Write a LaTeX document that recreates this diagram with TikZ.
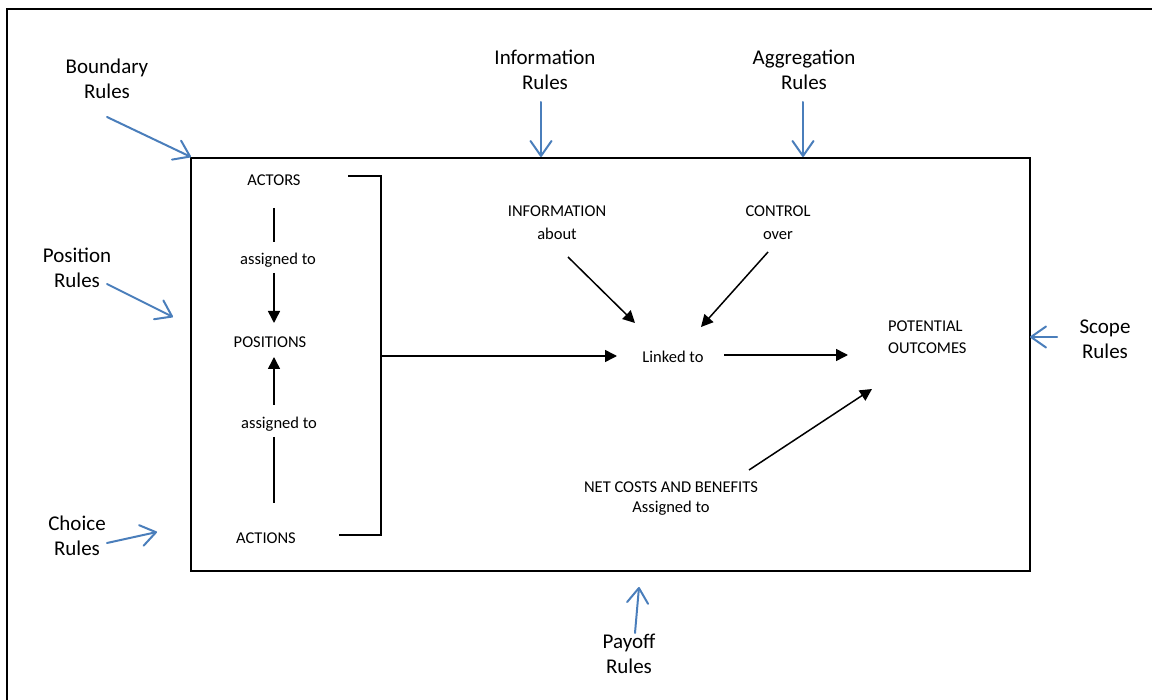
\documentclass[tikz,border=0pt]{standalone}
\usepackage{fontspec}
\setmainfont{Carlito}
\usetikzlibrary{arrows.meta}
\definecolor{ruleblue}{RGB}{74,126,187}

\begin{document}
\begin{tikzpicture}[x=1pt,y=-1pt,
  rulelabel/.style={font=\fontsize{21}{25}\selectfont, align=center, inner sep=0pt},
  inlabel/.style={font=\fontsize{16.5}{20}\selectfont, align=center, inner sep=0pt},
  rulearrow/.style={draw=ruleblue, line width=2pt, line cap=round,
    -{Straight Barb[length=15pt,width=21pt,line width=2pt,round]}},
  flow/.style={draw=black, line width=1.5pt, -{Triangle[length=12pt,width=12pt]}},
  plainline/.style={draw=black, line width=1.5pt}]

\useasboundingbox (0,0) rectangle (1152,700);

% page frame (top and left edges)
\coordinate (frameTR) at (1152,9);
\coordinate (frameTL) at (7,9);
\coordinate (frameBL) at (7,700);
\draw[line width=2pt] (frameTR) -- (frameTL) -- (frameBL);

% action arena
\node[draw, line width=1.6pt, minimum width=839pt, minimum height=413pt,
      anchor=north west, inner sep=0pt] (arena) at (190,157) {};

% ---- rules around the arena ----
\node[rulelabel] (boundary) at (107,79) {Boundary\\Rules};
\node[rulelabel] (information) at (545,70) {Information\\Rules};
\node[rulelabel] (aggregation) at (804,70) {Aggregation\\Rules};
\node[rulelabel] (position) at (77,268) {Position\\Rules};
\node[rulelabel] (choice) at (77,536) {Choice\\Rules};
\node[rulelabel] (scope) at (1105,339) {Scope\\Rules};
\node[rulelabel] (payoff) at (629,654) {Payoff\\Rules};

\coordinate (bS) at (107,117);  \coordinate (bE) at (191,157);
\coordinate (iS) at (541,102);  \coordinate (iE) at (541,157);
\coordinate (aS) at (803,102);  \coordinate (aE) at (803,157);
\coordinate (pS) at (107,284);  \coordinate (pE) at (173,317);
\coordinate (cS) at (107,543);  \coordinate (cE) at (157,532);
\coordinate (sS) at (1057,337); \coordinate (sE) at (1030,337);
\coordinate (yS) at (635,633);  \coordinate (yE) at (639,587);

\draw[rulearrow] (bS) -- (bE);
\draw[rulearrow] (iS) -- (iE);
\draw[rulearrow] (aS) -- (aE);
\draw[rulearrow] (pS) -- (pE);
\draw[rulearrow] (cS) -- (cE);
\draw[rulearrow] (sS) -- (sE);
\draw[rulearrow] (yS) -- (yE);

% ---- inside the arena ----
\node[inlabel] (actors) at (274,180) {ACTORS};
\node[inlabel] (assignedA) at (278,260) {assigned to};
\node[inlabel] (positions) at (270,342) {POSITIONS};
\node[inlabel] (assignedB) at (279,424) {assigned to};
\node[inlabel] (actions) at (266,538) {ACTIONS};

\node[inlabel, font=\fontsize{16.5}{23}\selectfont] (info) at (557,223) {INFORMATION\\about};
\node[inlabel, font=\fontsize{16.5}{23}\selectfont] (control) at (778,223) {CONTROL\\over};
\node[inlabel] (linked) at (673,357) {Linked to};
\node[inlabel, align=left, anchor=west, font=\fontsize{16.5}{22}\selectfont] (outcomes) at (888,337) {POTENTIAL\\OUTCOMES};
\node[inlabel] (costs) at (671,499) {NET COSTS AND BENEFITS\\Assigned to};

% actors -> positions <- actions
\coordinate (l1a) at (274,208); \coordinate (l1b) at (274,242);
\coordinate (l2a) at (274,273); \coordinate (l2b) at (274,323);
\coordinate (l3a) at (274,405); \coordinate (l3b) at (274,357);
\coordinate (l4a) at (274,437); \coordinate (l4b) at (274,503);
\draw[plainline] (l1a) -- (l1b);
\draw[flow] (l2a) -- (l2b);
\draw[flow] (l3a) -- (l3b);
\draw[plainline] (l4a) -- (l4b);

% bracket joining actors, positions and actions
\coordinate (brT) at (348,176);
\coordinate (brC) at (381,176);
\coordinate (brD) at (381,535);
\coordinate (brB) at (339,535);
\coordinate (brM) at (381,356);
\draw[plainline] (brT) -- (brC) -- (brD) -- (brB);

% links to outcomes
\coordinate (mE) at (617,356);
\draw[flow] (brM) -- (mE);
\coordinate (oS) at (724,355); \coordinate (oE) at (848,355);
\draw[flow] (oS) -- (oE);
\coordinate (inS) at (568,257); \coordinate (inE) at (635,323);
\draw[flow] (inS) -- (inE);
\coordinate (coS) at (768,252); \coordinate (coE) at (701,327);
\draw[flow] (coS) -- (coE);
\coordinate (ncS) at (749,470); \coordinate (ncE) at (872,389);
\draw[flow] (ncS) -- (ncE);
\end{tikzpicture}
\end{document}
